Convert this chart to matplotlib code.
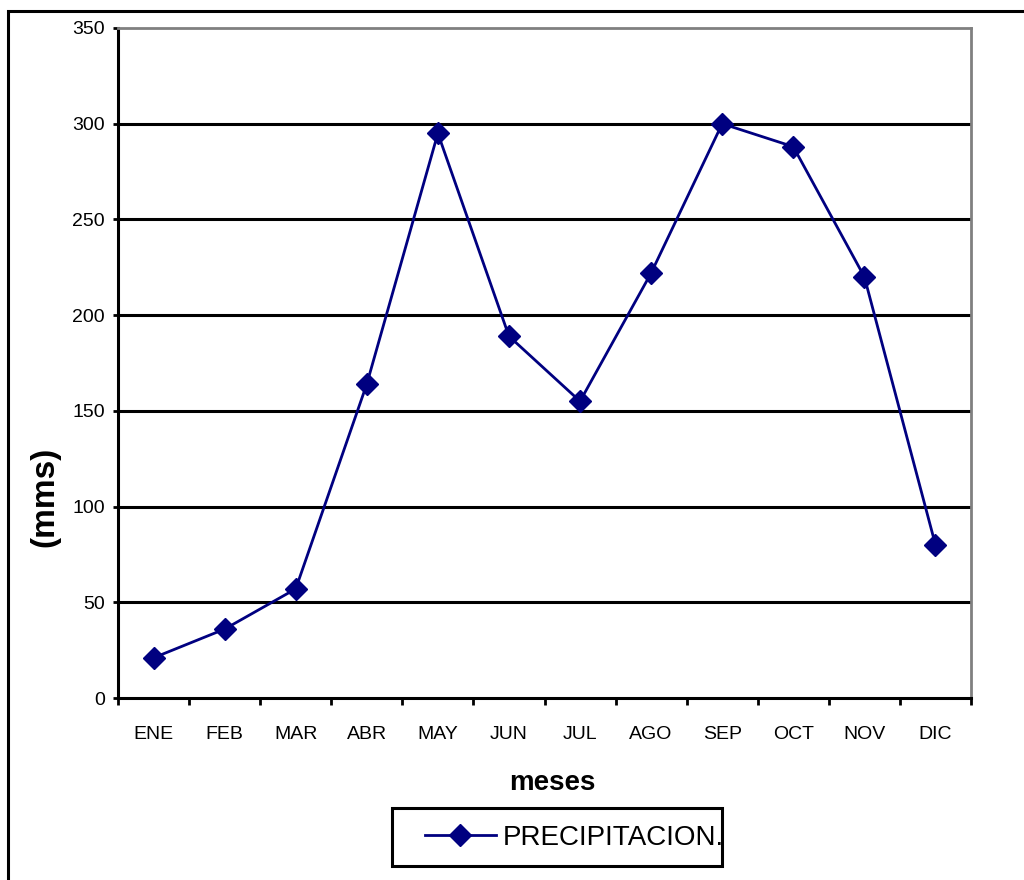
import numpy as np
import matplotlib
matplotlib.use('Agg')
import matplotlib.pyplot as plt
from matplotlib.patches import Rectangle
from matplotlib.ticker import FixedLocator, NullFormatter

meses = ['ENE', 'FEB', 'MAR', 'ABR', 'MAY', 'JUN', 'JUL', 'AGO', 'SEP', 'OCT', 'NOV', 'DIC']
precipitacion = [21, 36, 57, 164, 295, 189, 155, 222, 300, 288, 220, 80]
y_ticks = [0, 50, 100, 150, 200, 250, 300, 350]

plt.rcParams['font.family'] = ['Liberation Sans', 'DejaVu Sans']

fig = plt.figure(figsize=(10.24, 8.8), dpi=100)
ax = fig.add_axes([118/1024, 1 - 698/880, 853/1024, 670/880])

x = np.arange(len(meses)) + 0.5
ax.plot(x, precipitacion, color='#000080', lw=2, marker='D', ms=11.5,
        mfc='#000080', mec='#000080', label='PRECIPITACION.', zorder=5)

ax.set_xlim(0, len(meses))
ax.set_ylim(0, 350)
ax.set_yticks(y_ticks)
for v in y_ticks[1:-1]:
    ax.axhline(v, color='black', lw=2.2, zorder=1)

# ticks on the category borders, labels in the middle
ax.xaxis.set_major_locator(FixedLocator(np.arange(len(meses) + 1)))
ax.xaxis.set_major_formatter(NullFormatter())
ax.xaxis.set_minor_locator(FixedLocator(x))
ax.set_xticklabels(meses, minor=True)
ax.tick_params(axis='x', which='major', length=5, width=2, direction='out')
ax.tick_params(axis='x', which='minor', length=0, pad=20, labelsize=14)
ax.tick_params(axis='y', length=3.5, width=2, pad=6, labelsize=14)

for s in ['left', 'bottom']:
    ax.spines[s].set_linewidth(2.2)
    ax.spines[s].set_color('black')
for s in ['top', 'right']:
    ax.spines[s].set_linewidth(2)
    ax.spines[s].set_color('#808080')

ax.set_ylabel('(mms)', fontsize=24, fontweight='bold')
ax.yaxis.set_label_coords(-0.068, 0.30)
ax.set_xlabel('meses', fontsize=20, fontweight='bold')
ax.xaxis.set_label_coords(0.509, -0.108)

# legend box drawn by hand, Excel style with wide left padding
fig.patches.append(Rectangle((392/1024, 1 - 866/880), 330/1024, 58/880,
                             transform=fig.transFigure, fill=False,
                             edgecolor='black', lw=2.2, zorder=3))
leg = fig.legend(loc='center left', bbox_to_anchor=(411/1024, 1 - 838/880),
                 frameon=False, handlelength=2.55, borderpad=0,
                 handletextpad=0.25, prop={'size': 20})

# outer chart border, cut off on the right and bottom
fig.patches.append(Rectangle((8/1024, -0.1), 1.2, 1.1 - 11/880,
                             transform=fig.transFigure, fill=False,
                             edgecolor='black', lw=2.2))

fig.savefig('out.png', dpi=100)
